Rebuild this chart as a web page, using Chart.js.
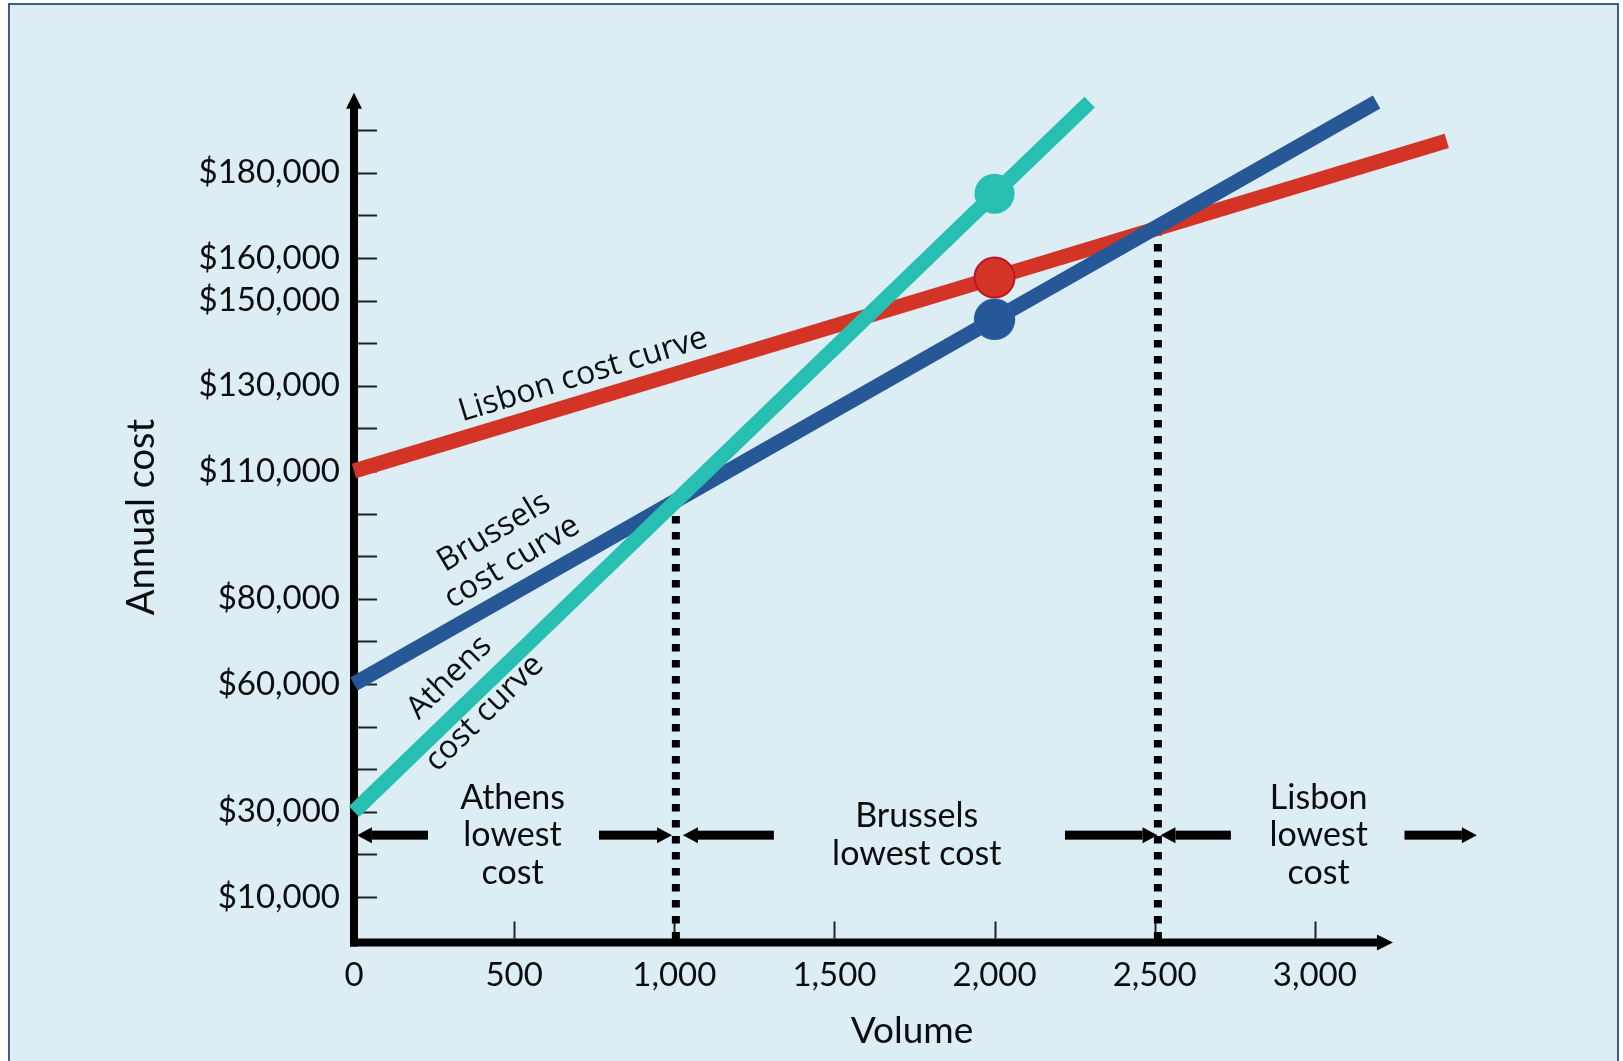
<!DOCTYPE html>
<html>
<head>
<meta charset="utf-8">
<script src="https://cdn.jsdelivr.net/npm/chart.js@4.4.1/dist/chart.umd.min.js"></script>
<style>
html, body { margin: 0; padding: 0; background: #ffffff; }
canvas { display: block; }
</style>
</head>
<body>
<canvas id="chart" width="1623" height="1061"></canvas>
<script>
// ---------------- data ----------------
const athensVolume   = [0, 2000, 2297];
const athensCost     = [30000, 175100, 196600];
const brusselsVolume = [0, 2000, 3193];
const brusselsCost   = [60000, 145600, 196600];
const lisbonVolume   = [0, 2000, 3412];
const lisbonCost     = [110000, 155400, 187500];

const crossoverVolume = [1005, 2510];
const crossoverCost   = [102600, 166900];

const xTickValues = [0, 500, 1000, 1500, 2000, 2500, 3000];
const yTickMarks  = [10000, 20000, 30000, 40000, 50000, 60000, 70000, 80000, 90000, 100000,
                     110000, 120000, 130000, 140000, 150000, 160000, 170000, 180000, 190000];
const yTickLabels = [10000, 30000, 60000, 80000, 110000, 130000, 150000, 160000, 180000];

const rangeArrowFrom = [231, 765, 1311, 2220, 2738, 3280];
const rangeArrowTo   = [9, 993, 1027, 2509, 2518, 3506];
const rangeArrowCost = 24500;

const regionNames  = [['Athens', 'lowest', 'cost'], ['Brussels', 'lowest cost'], ['Lisbon', 'lowest', 'cost']];
const regionVolume = [495, 1757, 3012];

const curveNames  = [['Lisbon cost curve'], ['Brussels', 'cost curve'], ['Athens', 'cost curve']];
const curveVolume = [715, 465, 353];
const curveCost   = [132500, 92100, 57300];

const xAxisTitle = 'Volume';
const yAxisTitle = 'Annual cost';

// ---------------- styles ----------------
const TEAL = '#27bfb1';
const BLUE = '#265897';
const RED  = '#d43425';
const INK  = '#0d0d0d';
const PANEL_BG = '#dceef4';
const PANEL_BORDER = '#405d7e';

function pts(xs, ys) { return xs.map((x, i) => ({ x: x, y: ys[i] })); }

const curveStyle = {
  angle: [-17, -31, -44.5],
  spacing: [0, 35, 50]
};

const decor = {
  id: 'decor',
  beforeDraw(chart) {
    const c = chart.ctx;
    c.save();
    c.fillStyle = '#ffffff';
    c.fillRect(0, 0, chart.width, chart.height);
    c.fillStyle = PANEL_BG;
    c.fillRect(9, 4, 1609, 1070);
    c.strokeStyle = PANEL_BORDER;
    c.lineWidth = 2;
    c.strokeRect(9, 4, 1609, 1070);
    c.restore();
  },
  beforeDatasetsDraw(chart) {
    const c = chart.ctx;
    const xs = chart.scales.x, ys = chart.scales.y;
    const x0 = xs.getPixelForValue(0);
    const y0 = ys.getPixelForValue(0);
    const axisY = y0 + 3;
    c.save();
    c.fillStyle = '#000';
    c.strokeStyle = '#000';
    // y axis
    const yTip = ys.getPixelForValue(198800);
    c.lineWidth = 8;
    c.beginPath();
    c.moveTo(x0, axisY + 4);
    c.lineTo(x0, yTip + 10);
    c.stroke();
    c.beginPath();
    c.moveTo(x0, yTip);
    c.lineTo(x0 - 8, yTip + 16);
    c.lineTo(x0 + 8, yTip + 16);
    c.closePath();
    c.fill();
    // x axis
    const xTip = xs.getPixelForValue(3244);
    c.beginPath();
    c.moveTo(x0 - 4, axisY);
    c.lineTo(xTip - 10, axisY);
    c.stroke();
    c.beginPath();
    c.moveTo(xTip, axisY);
    c.lineTo(xTip - 16, axisY - 8);
    c.lineTo(xTip - 16, axisY + 8);
    c.closePath();
    c.fill();
    // tick marks
    c.strokeStyle = '#222';
    c.lineWidth = 2;
    ys.ticks.forEach(t => {
      const py = Math.round(ys.getPixelForValue(t.value)) + 0.5;
      c.beginPath();
      c.moveTo(x0 + 4, py);
      c.lineTo(x0 + 23, py);
      c.stroke();
    });
    xs.ticks.forEach(t => {
      if (t.value === 0) return;
      const px = Math.round(xs.getPixelForValue(t.value)) + 0.5;
      c.beginPath();
      c.moveTo(px, axisY - 4);
      c.lineTo(px, axisY - 21);
      c.stroke();
    });
    c.restore();
  },
  afterDatasetsDraw(chart) {
    const c = chart.ctx;
    const xs = chart.scales.x, ys = chart.scales.y;
    c.save();
    // range arrows
    c.fillStyle = '#000';
    const ay = ys.getPixelForValue(rangeArrowCost);
    rangeArrowFrom.forEach((from, i) => {
      const x1 = xs.getPixelForValue(from);
      const x2 = xs.getPixelForValue(rangeArrowTo[i]);
      const dir = Math.sign(x2 - x1);
      const headBase = x2 - dir * 15;
      c.fillRect(Math.min(x1, headBase), ay - 4.5, Math.abs(headBase - x1), 9);
      c.beginPath();
      c.moveTo(x2, ay);
      c.lineTo(headBase, ay - 8);
      c.lineTo(headBase, ay + 8);
      c.closePath();
      c.fill();
    });
    // region labels
    c.fillStyle = INK;
    c.font = '34px Lato';
    c.textAlign = 'center';
    c.textBaseline = 'middle';
    regionNames.forEach((lines, i) => {
      const px = xs.getPixelForValue(regionVolume[i]);
      const lh = 37.5;
      lines.forEach((txt, j) => {
        c.fillText(txt, px, ay + (j - (lines.length - 1) / 2) * lh);
      });
    });
    // curve labels
    c.font = '32px "Open Sans"';
    curveNames.forEach((lines, i) => {
      const px = xs.getPixelForValue(curveVolume[i]);
      const py = ys.getPixelForValue(curveCost[i]);
      c.save();
      c.translate(px, py);
      c.rotate(curveStyle.angle[i] * Math.PI / 180);
      lines.forEach((txt, j) => {
        c.fillText(txt, 0, (j - (lines.length - 1) / 2) * curveStyle.spacing[i]);
      });
      c.restore();
    });
    // axis titles
    c.font = '37px Lato';
    c.fillText(xAxisTitle, 912, 1031);
    c.save();
    c.translate(142, 517);
    c.rotate(-Math.PI / 2);
    c.font = '38px Lato';
    c.fillText(yAxisTitle, 0, 0);
    c.restore();
    c.restore();
  }
};

const lineBase = { borderWidth: 15, borderCapStyle: 'butt', fill: false, tension: 0, clip: false, showLine: true };

new Chart(document.getElementById('chart').getContext('2d'), {
  type: 'line',
  data: {
    datasets: [
      Object.assign({}, lineBase, {
        label: 'Athens', data: pts(athensVolume, athensCost), borderColor: TEAL,
        pointRadius: [0, 20, 0], pointBackgroundColor: TEAL, pointBorderColor: TEAL, pointBorderWidth: 0, order: 1
      }),
      Object.assign({}, lineBase, {
        label: 'Brussels', data: pts(brusselsVolume, brusselsCost), borderColor: BLUE,
        pointRadius: [0, 20, 0], pointBackgroundColor: BLUE, pointBorderColor: '#2a5ea3', pointBorderWidth: 1.5, order: 2
      }),
      Object.assign({}, lineBase, {
        label: 'Lisbon', data: pts(lisbonVolume, lisbonCost), borderColor: RED,
        pointRadius: [0, 20, 0], pointBackgroundColor: RED, pointBorderColor: '#c0142a', pointBorderWidth: 2, order: 3
      }),
      {
        label: 'Athens/Brussels crossover', data: [{ x: crossoverVolume[0], y: 0 }, { x: crossoverVolume[0], y: crossoverCost[0] }],
        borderColor: '#000', borderWidth: 8, borderDash: [7.5, 8.5], pointRadius: 0, clip: false, order: 5, showLine: true
      },
      {
        label: 'Brussels/Lisbon crossover', data: [{ x: crossoverVolume[1], y: 0 }, { x: crossoverVolume[1], y: crossoverCost[1] }],
        borderColor: '#000', borderWidth: 8, borderDash: [7.5, 8.5], pointRadius: 0, clip: false, order: 5, showLine: true
      }
    ]
  },
  options: {
    responsive: false,
    animation: false,
    devicePixelRatio: 1,
    layout: { padding: { left: 0, top: 45, right: 84, bottom: 0 } },
    plugins: { legend: { display: false }, tooltip: { enabled: false }, title: { display: false } },
    scales: {
      x: {
        type: 'linear', min: 0, max: 3700,
        grid: { display: false, drawTicks: false },
        border: { display: false },
        afterBuildTicks: s => { s.ticks = xTickValues.map(v => ({ value: v })); },
        afterFit: s => { s.height = 121.5; s.paddingLeft = 0; s.paddingRight = 0; },
        ticks: {
          font: { family: 'Lato', size: 33 }, color: INK, padding: 16,
          maxRotation: 0, autoSkip: false,
          callback: v => v.toLocaleString('en-US')
        }
      },
      y: {
        type: 'linear', min: 0, max: 210000,
        grid: { display: false, drawTicks: false },
        border: { display: false },
        afterBuildTicks: s => { s.ticks = yTickMarks.map(v => ({ value: v })); },
        afterFit: s => { s.width = 354; s.paddingTop = 0; s.paddingBottom = 0; },
        ticks: {
          font: { family: 'Lato', size: 33 }, color: INK, padding: 14, autoSkip: false,
          callback: v => yTickLabels.includes(v) ? '$' + v.toLocaleString('en-US') : ''
        }
      }
    }
  },
  plugins: [decor]
});
</script>
</body>
</html>
